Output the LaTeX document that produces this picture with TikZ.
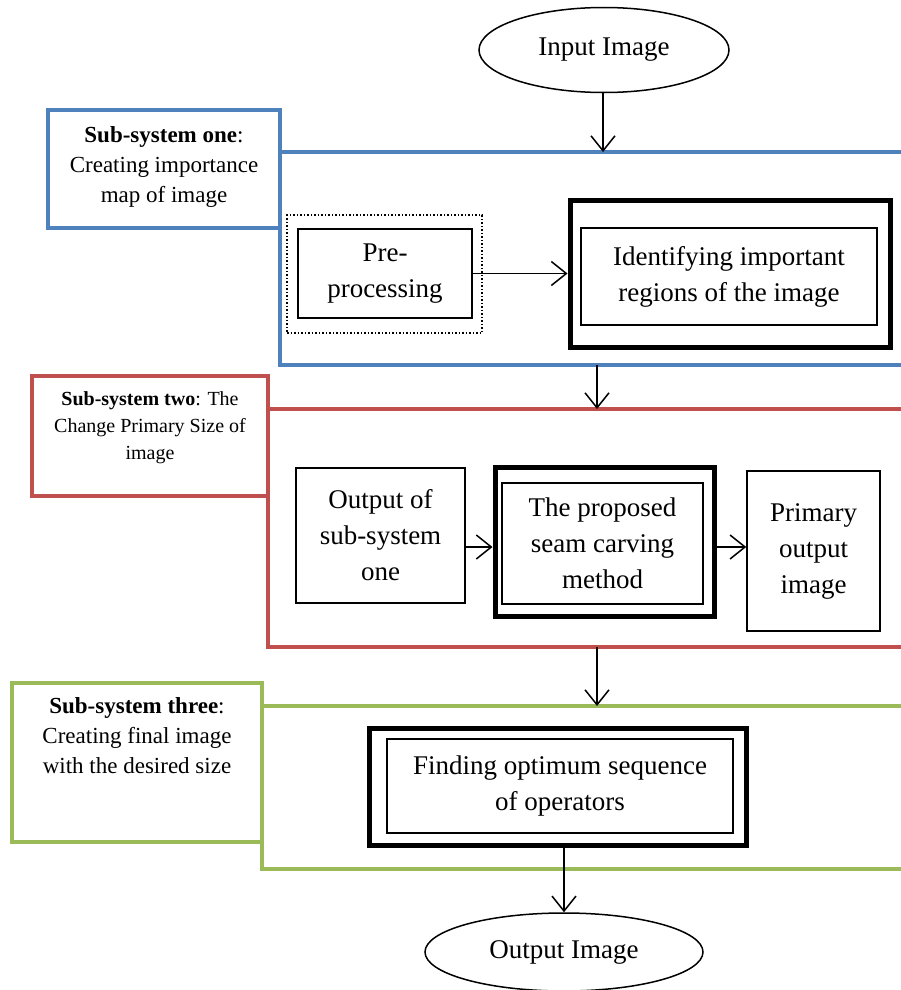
\documentclass[tikz,border=0pt]{standalone}
\usepackage{fontspec}
\setmainfont{Liberation Serif}
\usetikzlibrary{arrows.meta,shapes.geometric}
\definecolor{ssblue}{RGB}{79,129,189}
\definecolor{ssred}{RGB}{192,80,77}
\definecolor{ssgreen}{RGB}{155,187,89}
\tikzset{
  frame/.style={line width=3.5pt},
  labelbox/.style={draw, line width=3.5pt, fill=white, inner sep=0pt},
  plainbox/.style={draw, line width=1.5pt, inner sep=0pt, align=center, font=\fontsize{27}{36}\selectfont},
  thickbox/.style={draw, line width=5pt, inner sep=0pt},
  dotbox/.style={draw, line width=1.5pt, dotted, inner sep=0pt},
  oval/.style={draw, ellipse, line width=1.5pt, inner sep=0pt, font=\fontsize{27}{36}\selectfont},
  lbl/.style={anchor=base, align=center, inner sep=0pt},
  arr/.style={line width=1.5pt, -{Straight Barb[length=15pt,width=24pt,line width=1.5pt]}}
}
\begin{document}
\begin{tikzpicture}[x=1pt,y=-1pt]
\useasboundingbox (0,0) rectangle (901,990);
\clip (0,0) rectangle (901,990);
% big frames
\draw[frame, ssblue] (280,152) rectangle (930,365);
\draw[frame, ssred] (268,409) rectangle (930,647);
\draw[frame, ssgreen] (262,706) rectangle (930,869);
% label boxes
\node (lb1) [labelbox, draw=ssblue, minimum width=232pt, minimum height=118pt] at (164,169) {};
\node (lt1) [lbl, font=\fontsize{23}{30}\selectfont] at (164,202) {\textbf{Sub-system one}:\\Creating importance\\map of image};
\node (lb2) [labelbox, draw=ssred, minimum width=236pt, minimum height=120pt] at (150,436) {};
\node (lt2) [lbl, font=\fontsize{20}{27}\selectfont] at (150,459) {\textbf{Sub-system two}: The\\Change Primary Size of\\image};
\node (lb3) [labelbox, draw=ssgreen, minimum width=250pt, minimum height=159pt] at (137,762.5) {};
\node (lt3) [lbl, font=\fontsize{23}{30}\selectfont] at (137,773) {\textbf{Sub-system three}:\\Creating final image\\with the desired size};
% ellipses
\node (in) [oval, minimum width=250pt, minimum height=85pt] at (604,50) {Input Image};
\node (out) [oval, minimum width=278pt, minimum height=78pt] at (564,952) {Output Image};
% sub-system one
\node (predot) [dotbox, minimum width=195pt, minimum height=118pt] at (384.5,274) {};
\node (pre) [plainbox, minimum width=174pt, minimum height=89pt] at (385,273.5) {Pre-\\processing};
\node (identout) [thickbox, minimum width=320pt, minimum height=147pt] at (730,273.5) {};
\node (ident) [plainbox, minimum width=296pt, minimum height=97pt] at (729,276.5) {Identifying important\\regions of the image};
% sub-system two
\node (out1) [plainbox, minimum width=169pt, minimum height=135pt] at (380.5,535.5) {Output of\\sub-system\\one};
\node (seamout) [thickbox, minimum width=219pt, minimum height=149pt] at (604.5,541.5) {};
\node (seam) [plainbox, minimum width=201pt, minimum height=121pt] at (602.5,543.5) {The proposed\\seam carving\\method};
\node (prim) [plainbox, minimum width=133pt, minimum height=160pt] at (813.5,551) {Primary\\output\\image};
% sub-system three
\node (findout) [thickbox, minimum width=377pt, minimum height=117pt] at (557.5,786.5) {};
\node (find) [plainbox, minimum width=346pt, minimum height=94pt] at (560,786) {Finding optimum sequence\\of operators};
% connector points
\coordinate (b1top) at (603,152);
\coordinate (b1bot) at (597,365);
\coordinate (r1top) at (597,409);
\coordinate (r1bot) at (597,647);
\coordinate (g1top) at (597,706);
\coordinate (ya) at (0,547);
% connectors
\draw[arr] (in.south -| b1top) -- (b1top);
\draw[arr] (pre.east) -- (identout.west);
\draw[arr] (b1bot) -- (r1top);
\draw[arr] (out1.east |- ya) -- (seamout.west |- ya);
\draw[arr] (seamout.east |- ya) -- (prim.west |- ya);
\draw[arr] (r1bot) -- (g1top);
\draw[arr] (findout.south -| out.north) -- (out.north);
\end{tikzpicture}
\end{document}
